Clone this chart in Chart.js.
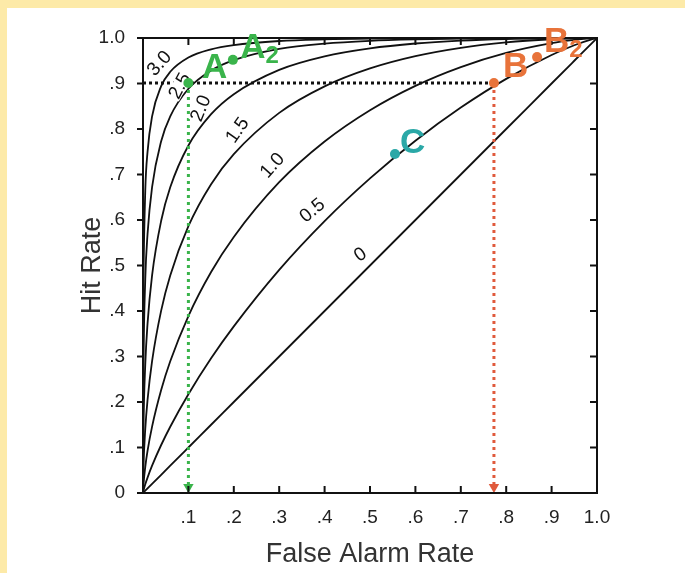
<!DOCTYPE html>
<html>
<head>
<meta charset="utf-8">
<script src="https://cdn.jsdelivr.net/npm/chart.js@4.4.1/dist/chart.umd.min.js"></script>
<style>
  html, body { margin: 0; padding: 0; background: #fff; }
  canvas { display: block; }
</style>
</head>
<body>
<canvas id="roc" width="685" height="573"></canvas>
<script>
// false alarm rates shared by every curve
const falseAlarms = [0, 0.0001, 0.001, 0.005, 0.01, 0.02, 0.04, 0.06, 0.1, 0.15, 0.2, 0.3, 0.4, 0.5, 0.6, 0.7, 0.8, 0.9, 0.95, 0.99, 1];

// hit rates
const hitD00 = [0, 0.0001, 0.001, 0.005, 0.01, 0.02, 0.04, 0.06, 0.1, 0.15, 0.2, 0.3, 0.4, 0.5, 0.6, 0.7, 0.8, 0.9, 0.95, 0.99, 1];
const hitD05 = [0, 0.0006, 0.0048, 0.019, 0.0339, 0.0601, 0.1055, 0.1457, 0.2171, 0.296, 0.3662, 0.4904, 0.5976, 0.6915, 0.7743, 0.8471, 0.9102, 0.9626, 0.984, 0.9976, 1];
const hitD10 = [0, 0.0033, 0.0183, 0.0575, 0.0924, 0.1459, 0.2263, 0.2894, 0.389, 0.4856, 0.5628, 0.683, 0.7725, 0.8413, 0.8949, 0.9362, 0.9673, 0.9888, 0.9959, 0.9996, 1];
const hitD15 = [0, 0.0132, 0.0559, 0.141, 0.2044, 0.2898, 0.4009, 0.4781, 0.5863, 0.6787, 0.7447, 0.8355, 0.8938, 0.9332, 0.9602, 0.9785, 0.9904, 0.9973, 0.9992, 0.9999, 1];
const hitD20 = [0, 0.0428, 0.1379, 0.2823, 0.3722, 0.4785, 0.5983, 0.6718, 0.7637, 0.8325, 0.8766, 0.93, 0.9597, 0.9772, 0.9879, 0.9942, 0.9978, 0.9995, 0.9999, 1, 1];
const hitD25 = [0, 0.1114, 0.2776, 0.4697, 0.5691, 0.6722, 0.7731, 0.8277, 0.8884, 0.9284, 0.9513, 0.9759, 0.9877, 0.9938, 0.997, 0.9988, 0.9996, 0.9999, 1, 1, 1];
const hitD30 = [0, 0.2361, 0.4641, 0.6642, 0.7498, 0.8279, 0.8942, 0.9258, 0.9571, 0.9752, 0.9845, 0.9934, 0.997, 0.9987, 0.9994, 0.9998, 0.9999, 1, 1, 1, 1];

const curveNames = ["3.0", "2.5", "2.0", "1.5", "1.0", "0.5", "0"];
const curveHits = [hitD30, hitD25, hitD20, hitD15, hitD10, hitD05, hitD00];

// marked observers
const pointNames = ["A", "A2", "B", "B2", "C"];
const pointFA = [0.1, 0.198, 0.773, 0.868, 0.555];
const pointHit = [0.901, 0.952, 0.901, 0.958, 0.745];

const tickValues = [0, 0.1, 0.2, 0.3, 0.4, 0.5, 0.6, 0.7, 0.8, 0.9, 1];

// where the curve names sit (data coords) and their slant
const curveLabelFA = [0.035, 0.08, 0.126, 0.207, 0.284, 0.372, 0.478];
const curveLabelHit = [0.945, 0.895, 0.846, 0.798, 0.721, 0.622, 0.525];
const curveLabelAngle = [-48, -62, -68, -55, -48, -40, -35];

// where the letter labels start (left edge, baseline)
const letterFA = [0.130, 0.214, 0.793, 0.883, 0.566];
const letterHit = [0.912, 0.956, 0.914, 0.969, 0.747];

const GREEN = "#3ab44b";
const ORANGE = "#e8733a";
const RED = "#e05a3c";
const TEAL = "#2aa8a7";
const pointColors = [GREEN, GREEN, ORANGE, ORANGE, TEAL];

function tickText(v) {
    const n = Math.round(v * 10);
    if (n === 0) return "0";
    if (n === 10) return "1.0";
    return "." + n;
}

const datasets = [];

// markers on top
pointNames.forEach((name, i) => {
    datasets.push({
        label: name,
        data: [{ x: pointFA[i], y: pointHit[i] }],
        pointRadius: 5,
        pointBackgroundColor: pointColors[i],
        pointBorderWidth: 0,
        showLine: false,
        order: 0,
        isMarker: true
    });
});

// dotted guide lines
datasets.push({
    label: "criterion",
    data: [{ x: 0, y: pointHit[0] }, { x: pointFA[2], y: pointHit[2] }],
    showLine: true,
    borderColor: "#111",
    borderWidth: 3,
    borderDash: [3, 3],
    pointRadius: 0,
    order: 1
});
datasets.push({
    label: "A drop",
    data: [{ x: pointFA[0], y: pointHit[0] }, { x: pointFA[0], y: 0.013 }],
    showLine: true,
    borderColor: GREEN,
    borderWidth: 3,
    borderDash: [3, 4],
    pointRadius: [0, 6],
    pointStyle: "triangle",
    pointRotation: 180,
    pointBackgroundColor: GREEN,
    pointBorderWidth: 0,
    order: 1
});
datasets.push({
    label: "B drop",
    data: [{ x: pointFA[2], y: pointHit[2] }, { x: pointFA[2], y: 0.013 }],
    showLine: true,
    borderColor: RED,
    borderWidth: 3,
    borderDash: [3, 4],
    pointRadius: [0, 6],
    pointStyle: "triangle",
    pointRotation: 180,
    pointBackgroundColor: RED,
    pointBorderWidth: 0,
    order: 1
});

// ROC curves
curveNames.forEach((name, i) => {
    datasets.push({
        label: "d' " + name,
        data: falseAlarms.map((f, j) => ({ x: f, y: curveHits[i][j] })),
        showLine: true,
        borderColor: "#111",
        borderWidth: 1.8,
        pointRadius: 0,
        cubicInterpolationMode: "monotone",
        order: 2
    });
});

// yellow frame behind everything
const pageBack = {
    id: "pageBack",
    beforeDraw(chart) {
        const ctx = chart.ctx;
        ctx.save();
        ctx.fillStyle = "#fdeaa8";
        ctx.fillRect(0, 0, chart.width, chart.height);
        ctx.fillStyle = "#ffffff";
        ctx.fillRect(7, 8, chart.width - 7, chart.height - 8);
        ctx.restore();
        chart.$curveLabelsDone = false;
    }
};

// d' names on the curves, painted just before the markers so dots stay visible
function drawCurveNames(chart) {
    const { ctx, scales: { x, y } } = chart;
    ctx.save();
    ctx.font = "19px 'Liberation Sans', Arial, sans-serif";
    ctx.textAlign = "center";
    ctx.textBaseline = "middle";
    curveNames.forEach((name, i) => {
        const px = x.getPixelForValue(curveLabelFA[i]);
        const py = y.getPixelForValue(curveLabelHit[i]);
        ctx.save();
        ctx.translate(px, py);
        ctx.rotate(curveLabelAngle[i] * Math.PI / 180);
        ctx.fillStyle = "#fff";
        const w = ctx.measureText(name).width;
        ctx.fillRect(-w / 2 - 1, -7, w + 2, 14);
        ctx.fillStyle = "#111";
        ctx.fillText(name, 0, 1);
        ctx.restore();
    });
    ctx.restore();
}

const curveNameLayer = {
    id: "curveNameLayer",
    beforeDatasetDraw(chart, args) {
        if (!chart.$curveLabelsDone && chart.data.datasets[args.index].isMarker) {
            drawCurveNames(chart);
            chart.$curveLabelsDone = true;
        }
    }
};

// box and tick marks
const frame = {
    id: "frame",
    afterDatasetsDraw(chart) {
        const { ctx, chartArea: a, scales: { x, y } } = chart;
        ctx.save();
        ctx.strokeStyle = "#111";
        ctx.lineWidth = 2;
        ctx.strokeRect(a.left, a.top, a.right - a.left, a.bottom - a.top);
        ctx.beginPath();
        tickValues.forEach(v => {
            const px = x.getPixelForValue(v);
            const py = y.getPixelForValue(v);
            ctx.moveTo(px, a.bottom); ctx.lineTo(px, a.bottom - 7);
            ctx.moveTo(px, a.top); ctx.lineTo(px, a.top + 7);
            ctx.moveTo(a.right, py); ctx.lineTo(a.right - 7, py);
            ctx.moveTo(a.left, py); ctx.lineTo(a.left - 6, py);
        });
        ctx.stroke();
        ctx.restore();
    }
};

// coloured letters
const letters = {
    id: "letters",
    afterDraw(chart) {
        const { ctx, scales: { x, y } } = chart;
        ctx.save();
        ctx.textAlign = "left";
        ctx.textBaseline = "alphabetic";
        pointNames.forEach((name, i) => {
            const px = x.getPixelForValue(letterFA[i]);
            const py = y.getPixelForValue(letterHit[i]);
            ctx.fillStyle = pointColors[i];
            ctx.font = "bold 35px 'Liberation Sans', Arial, sans-serif";
            const main = name.charAt(0);
            ctx.fillText(main, px, py);
            if (name.length > 1) {
                const w = ctx.measureText(main).width;
                ctx.font = "bold 24px 'Liberation Sans', Arial, sans-serif";
                ctx.fillText(name.slice(1), px + w, py + 5);
            }
        });
        ctx.restore();
    }
};

const axisFont = { family: "'Liberation Sans', Arial, sans-serif", size: 19 };
const titleFont = { family: "'Liberation Sans', Arial, sans-serif", size: 27 };

new Chart(document.getElementById("roc"), {
    type: "scatter",
    data: { datasets: datasets },
    options: {
        responsive: false,
        animation: false,
        layout: { padding: { left: 0, top: 38, right: 88, bottom: 0 } },
        plugins: {
            legend: { display: false },
            tooltip: { enabled: false }
        },
        scales: {
            x: {
                type: "linear",
                min: 0,
                max: 1,
                grid: { display: false },
                border: { display: false },
                afterBuildTicks: s => { s.ticks = tickValues.map(v => ({ value: v })); },
                afterFit: s => { s.height = 80; },
                ticks: {
                    color: "#222",
                    font: axisFont,
                    padding: 5,
                    maxRotation: 0,
                    callback: v => (Math.round(v * 10) === 0 ? "" : tickText(v))
                },
                title: {
                    display: true,
                    text: "False Alarm Rate",
                    color: "#333",
                    font: titleFont,
                    padding: { top: 0, bottom: 2 }
                }
            },
            y: {
                type: "linear",
                min: 0,
                max: 1,
                grid: { display: false },
                border: { display: false },
                afterBuildTicks: s => { s.ticks = tickValues.map(v => ({ value: v })); },
                afterFit: s => { s.width = 143; },
                ticks: {
                    color: "#222",
                    font: axisFont,
                    padding: 10,
                    callback: v => tickText(v)
                },
                title: {
                    display: true,
                    text: "Hit Rate",
                    color: "#333",
                    font: titleFont,
                    padding: { top: 76, bottom: 0 }
                }
            }
        }
    },
    plugins: [pageBack, curveNameLayer, frame, letters]
});
</script>
</body>
</html>
